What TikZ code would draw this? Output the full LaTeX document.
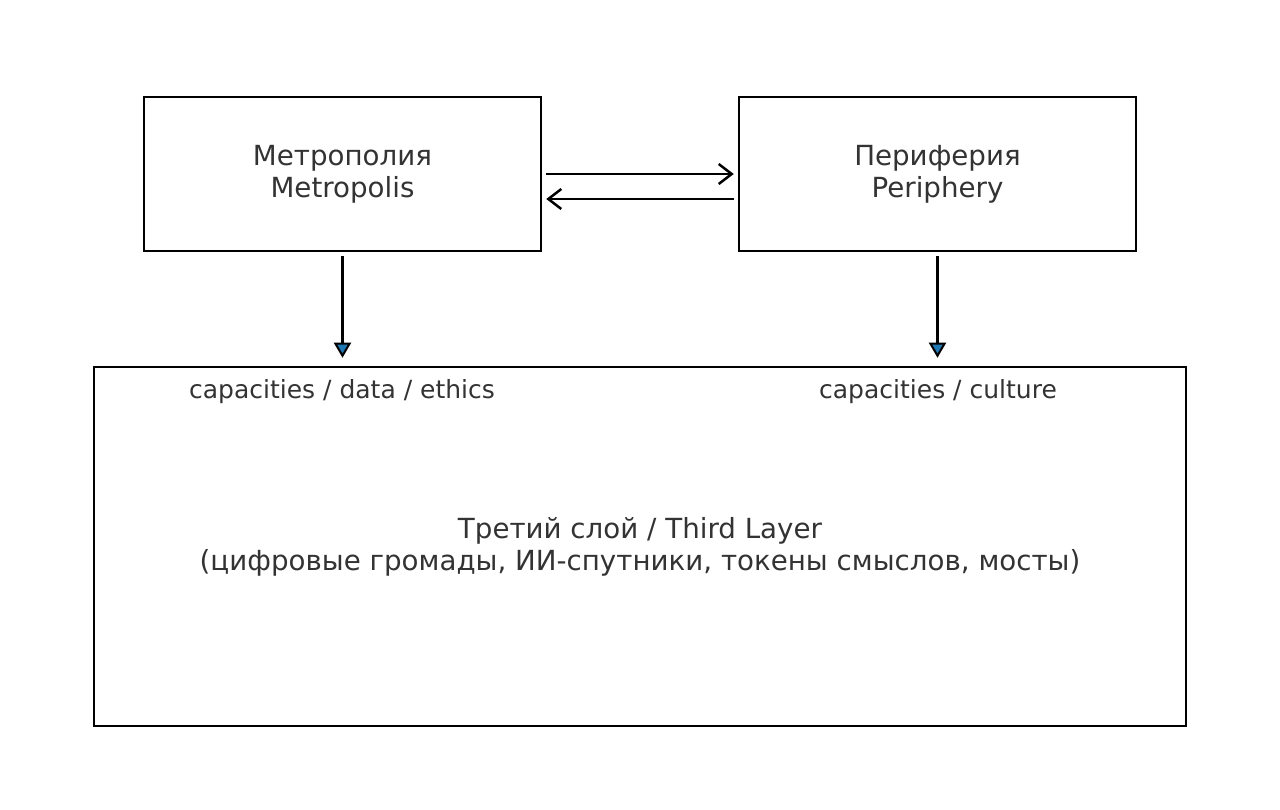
\documentclass[tikz,border=0pt]{standalone}
\usepackage{fontspec}
\setmainfont{DejaVu Sans}
\usetikzlibrary{arrows.meta}
\definecolor{txt}{HTML}{333333}
\definecolor{tabblue}{HTML}{1F77B4}
\begin{document}
\begin{tikzpicture}[x=1pt,y=-1pt,
  box/.style={draw=black,line width=2.5pt,inner sep=0pt,text=txt,align=center,
    font=\fontsize{27.7}{32}\selectfont},
  lbl/.style={text=txt,font=\fontsize{25}{28}\selectfont,inner sep=0pt},
  harrow/.style={line width=2.5pt,-{Straight Barb[length=13pt,width=20pt,line width=2.5pt]}},
  varrow/.style={line width=2.5pt,-{Triangle[length=15pt,width=17pt,fill=tabblue,line width=2pt]},shorten >=8pt}
]
\useasboundingbox (0,0) rectangle (1280,810);
\node[box,minimum width=397pt,minimum height=154pt] (m) at (342.5,174) {Метрополия\\Metropolis};
\node[box,minimum width=397pt,minimum height=154pt] (p) at (937.5,174) {Периферия\\Periphery};
\node[box,minimum width=1092pt,minimum height=359pt] (t) at (640,546.5) {Третий слой / Third Layer\\(цифровые громады, ИИ-спутники, токены смыслов, мосты)};
\draw[harrow,shorten <=4pt,shorten >=4pt] (m.east) -- (p.west);
\draw[harrow,shorten <=4pt,shorten >=4pt] ([yshift=-25pt]p.west) -- ([yshift=-25pt]m.east);
\draw[varrow,shorten <=4pt] (m.south) -- (m.south |- t.north);
\draw[varrow,shorten <=4pt] (p.south) -- (p.south |- t.north);
\node[lbl] (l1) at (342,392) {capacities / data / ethics};
\node[lbl] (l2) at (938,392) {capacities / culture};
\end{tikzpicture}
\end{document}
